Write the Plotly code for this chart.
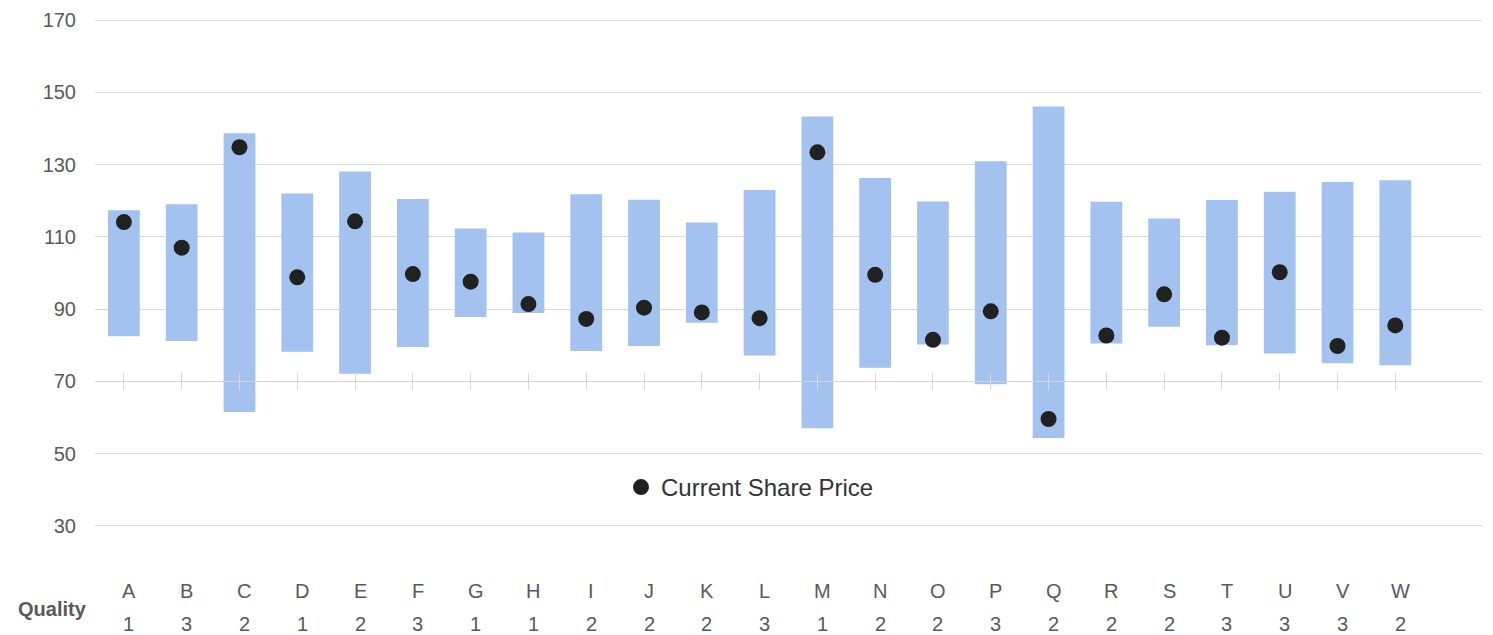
import plotly.graph_objects as go

# ---- data ----
categories = list("ABCDEFGHIJKLMNOPQRSTUVW")
quality = [1, 3, 2, 1, 2, 3, 1, 1, 2, 2, 2, 3, 1, 2, 2, 3, 2, 2, 2, 3, 3, 3, 2]
range_low = [82.5, 81.2, 61.5, 78.2, 72.1, 79.5, 87.8, 88.9, 78.4, 79.8, 86.2, 77.2,
             57.0, 73.8, 80.2, 69.2, 54.3, 80.5, 85.1, 80.0, 77.7, 75.0, 74.5]
range_high = [117.4, 119.0, 138.7, 122.0, 128.1, 120.5, 112.3, 111.2, 121.8, 120.3, 114.0, 123.0,
              143.3, 126.3, 119.8, 130.9, 146.1, 119.7, 115.1, 120.2, 122.5, 125.2, 125.7]
current_price = [114.1, 107.0, 134.8, 98.8, 114.3, 99.7, 97.6, 91.4, 87.3, 90.4, 89.1, 87.5,
                 133.4, 99.5, 81.5, 89.4, 59.6, 82.7, 94.1, 82.1, 100.2, 79.8, 85.5]
y_min, y_max, y_step = 30, 170, 20
x_axis_cross = 70
row_label = "Quality"
series_name = "Current Share Price"

FONT = "Liberation Sans, Arial, sans-serif"
idx = list(range(len(categories)))
pad = 0.3
y_lo, y_hi = y_min - pad, y_max + pad
cross_pos = (x_axis_cross - y_lo) / (y_hi - y_lo)

W, H = 1485, 627
ML, MR, MT, MB = 87, 11, 11, 108
plot_w = W - ML - MR

fig = go.Figure()
fig.add_trace(go.Bar(
    x=idx, y=[h - l for h, l in zip(range_high, range_low)], base=range_low,
    width=0.55, marker=dict(color="#a4c2f0", line=dict(width=0)),
    showlegend=False, hoverinfo="skip"))
fig.add_trace(go.Scatter(
    x=idx, y=current_price, mode="markers", name=series_name,
    marker=dict(color="#212121", size=16)))
fig.add_trace(go.Scatter(x=[], y=[], xaxis="x2", showlegend=False, hoverinfo="skip"))

annotations = []
for i, (c, q) in enumerate(zip(categories, quality)):
    annotations.append(dict(x=i, y=0, xref="x", yref="paper", text=c, showarrow=False,
                            xshift=5, yshift=-64, yanchor="middle",
                            font=dict(family=FONT, size=20, color="#595959")))
    annotations.append(dict(x=i, y=0, xref="x", yref="paper", text=str(q), showarrow=False,
                            xshift=5, yshift=-97, yanchor="middle",
                            font=dict(family=FONT, size=20, color="#595959")))
annotations.append(dict(x=0, y=0, xref="paper", yref="paper", text="<b>" + row_label + "</b>",
                        showarrow=False, xshift=-43, yshift=-82, xanchor="center", yanchor="middle",
                        font=dict(family=FONT, size=20, color="#595959")))

fig.update_layout(
    width=W, height=H,
    margin=dict(l=ML, r=MR, t=MT, b=MB, autoexpand=False),
    paper_bgcolor="white", plot_bgcolor="white",
    font=dict(family=FONT),
    xaxis=dict(range=[-0.5, len(categories) + 0.5], tickvals=idx, showticklabels=False,
               showgrid=False, zeroline=False, showline=True, linecolor="#d4d4d4", linewidth=1,
               ticks="outside", ticklen=8, tickcolor="#d9d9d9", tickwidth=1,
               anchor="free", position=cross_pos, automargin=False),
    xaxis2=dict(overlaying="x", matches="x", tickvals=idx, showticklabels=False,
                showgrid=False, zeroline=False, showline=False,
                ticks="inside", ticklen=8, tickcolor="#d9d9d9", tickwidth=1,
                anchor="free", position=cross_pos, automargin=False),
    yaxis=dict(range=[y_lo, y_hi], tickvals=list(range(y_min, y_max + 1, y_step)), showgrid=True,
               gridcolor="#d9d9d9", gridwidth=1.3, zeroline=False, showline=False,
               ticks="", ticklabelstandoff=18, automargin=False,
               tickfont=dict(family=FONT, size=20, color="#595959")),
    legend=dict(x=(526) / plot_w, y=(38.5 + 1) / 508, xanchor="left", yanchor="middle",
                bgcolor="rgba(0,0,0,0)", font=dict(family=FONT, size=24, color="#333333")),
    annotations=annotations,
    showlegend=True,
)

fig.write_html("out.html")
